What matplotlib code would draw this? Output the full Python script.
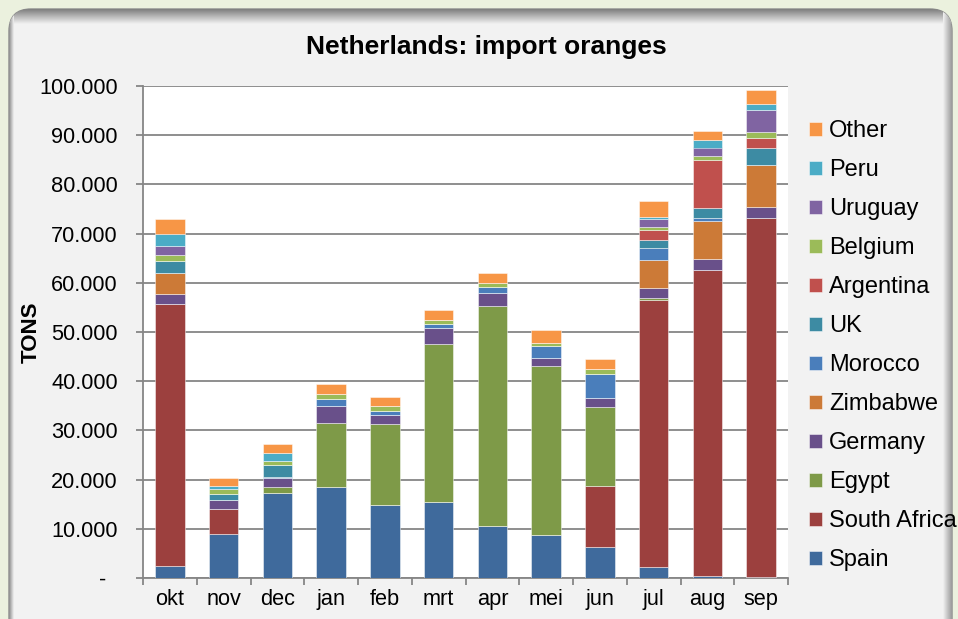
import matplotlib
matplotlib.use("Agg")
import matplotlib.pyplot as plt
import numpy as np
from matplotlib.patches import FancyBboxPatch
from matplotlib.ticker import FuncFormatter, FixedLocator
from matplotlib.colors import LinearSegmentedColormap

months = ["okt", "nov", "dec", "jan", "feb", "mrt", "apr", "mei", "jun", "jul", "aug", "sep"]

spain        = [2400, 8850, 17200, 18400, 14850, 15400, 10500, 8700, 6300, 2200, 500, 300]
south_africa = [53300, 5250, 0, 0, 0, 0, 0, 0, 12300, 54400, 62100, 72800]
egypt        = [0, 0, 1200, 13100, 16450, 32100, 44800, 34300, 16200, 400, 0, 0]
germany      = [2000, 1750, 1900, 3500, 1900, 3300, 2600, 1700, 1800, 2000, 2300, 2300]
zimbabwe     = [4300, 0, 0, 0, 0, 0, 0, 0, 0, 5600, 7600, 8500]
morocco      = [0, 0, 300, 1400, 800, 800, 1200, 2400, 4800, 2400, 600, 0]
uk           = [2500, 1300, 2400, 0, 0, 0, 0, 0, 0, 1800, 2100, 3500]
argentina    = [0, 0, 0, 0, 0, 0, 0, 0, 0, 1900, 9700, 2000]
belgium      = [1200, 900, 800, 1000, 1000, 800, 900, 700, 1000, 700, 900, 1300]
uruguay      = [1800, 0, 0, 0, 0, 0, 0, 0, 0, 1500, 1700, 4400]
peru         = [2400, 700, 1600, 0, 0, 0, 0, 0, 0, 400, 1500, 1300]
other        = [3100, 1500, 1800, 2100, 1700, 2100, 1900, 2700, 2100, 3300, 1900, 2800]

series_names = ["Spain", "South Africa", "Egypt", "Germany", "Zimbabwe", "Morocco",
                "UK", "Argentina", "Belgium", "Uruguay", "Peru", "Other"]
series_values = [spain, south_africa, egypt, germany, zimbabwe, morocco,
                 uk, argentina, belgium, uruguay, peru, other]
colors = ["#3F6A9C", "#9C403E", "#7E9A48", "#69508A", "#CC7A37", "#4A7EBB",
          "#3D8BA3", "#C0504D", "#9BBB59", "#8064A2", "#4BACC6", "#F79646"]

yticks = [0, 10000, 20000, 30000, 40000, 50000, 60000, 70000, 80000, 90000, 100000]

W, H = 958, 619
plt.rcParams["font.family"] = ["Liberation Sans", "DejaVu Sans"]
fig = plt.figure(figsize=(W / 100, H / 100), dpi=100)
fig.patch.set_facecolor("#EBF1DE")

# background panel (pixel coordinates)
bg = fig.add_axes([0, 0, 1, 1], zorder=0)
bg.set_xlim(0, W)
bg.set_ylim(H, 0)
bg.axis("off")
panel = FancyBboxPatch((9, 9), 943, 640, boxstyle="round,pad=0,rounding_size=22",
                       facecolor="#F2F2F2", edgecolor="#8C8C8C", linewidth=1.0)
bg.add_patch(panel)
grad_v = np.linspace(0, 1, 64).reshape(-1, 1)
cm_v = LinearSegmentedColormap.from_list("g", ["#7E7E7E", "#F2F2F2"])
im = bg.imshow(grad_v, cmap=cm_v, extent=(9, 952, 24, 9), aspect="auto", zorder=2)
im.set_clip_path(panel)
grad_h = np.linspace(0, 1, 64).reshape(1, -1)
cm_h = LinearSegmentedColormap.from_list("h", ["#F2F2F2", "#9A9A9A"])
im2 = bg.imshow(grad_h, cmap=cm_h, extent=(943, 952, H, 9), aspect="auto", zorder=2)
im2.set_clip_path(panel)
cm_l = LinearSegmentedColormap.from_list("l", ["#8A8A8A", "#F2F2F2"])
im3 = bg.imshow(grad_h, cmap=cm_l, extent=(9, 14, H, 9), aspect="auto", zorder=2)
im3.set_clip_path(panel)

ax = fig.add_axes([143 / W, 1 - 578 / H, (788 - 143) / W, (578 - 86) / H], zorder=1)
ax.set_facecolor("white")

x = np.arange(len(months))
bottom = np.zeros(len(months))
handles = []
for name, vals, c in zip(series_names, series_values, colors):
    v = np.array(vals, dtype=float)
    b = ax.bar(x, v, width=0.55, bottom=bottom, color=c, label=name,
               edgecolor=(1, 1, 1, 0.55), linewidth=0.6, zorder=3)
    handles.append(b)
    bottom += v

ax.set_xlim(-0.5, len(months) - 0.5)
ax.set_ylim(0, 100000)
ax.set_yticks(yticks)
ax.yaxis.set_major_formatter(FuncFormatter(
    lambda v, p: "-  " if v == 0 else f"{int(v):,}".replace(",", ".")))
ax.grid(axis="y", color="#868686", linewidth=1.3, zorder=1)
ax.set_axisbelow(True)

ax.set_xticks(x)
ax.set_xticklabels(months)
ax.xaxis.set_minor_locator(FixedLocator(np.arange(-0.5, len(months), 1.0)))
ax.tick_params(axis="x", which="major", length=0, pad=8, labelsize=15.7)
ax.tick_params(axis="x", which="minor", length=5, width=1.3, color="#868686", direction="out")
ax.tick_params(axis="y", which="major", length=5, width=1.3, color="#868686", pad=13,
               labelsize=15.7)

for s in ["top", "right"]:
    ax.spines[s].set_visible(False)
for s in ["left", "bottom"]:
    ax.spines[s].set_color("#868686")
    ax.spines[s].set_linewidth(1.3)

ax.set_ylabel("TONS", fontsize=16, fontweight="bold", va="center")
ax.yaxis.set_label_coords((31 - 143) / (788 - 143), 0.5)

fig.text(486 / W, 1 - 47 / H, "Netherlands: import oranges", ha="center", va="center",
         fontsize=19, fontweight="bold")

leg = fig.legend(handles[::-1], series_names[::-1], loc="upper left",
                 bbox_to_anchor=(809 / W, 1 - 120 / H), frameon=False,
                 fontsize=17, handlelength=0.55, handleheight=0.55, handletextpad=0.3,
                 labelspacing=0.72, borderaxespad=0, borderpad=0)

fig.savefig("out.png", dpi=100, facecolor=fig.get_facecolor())
